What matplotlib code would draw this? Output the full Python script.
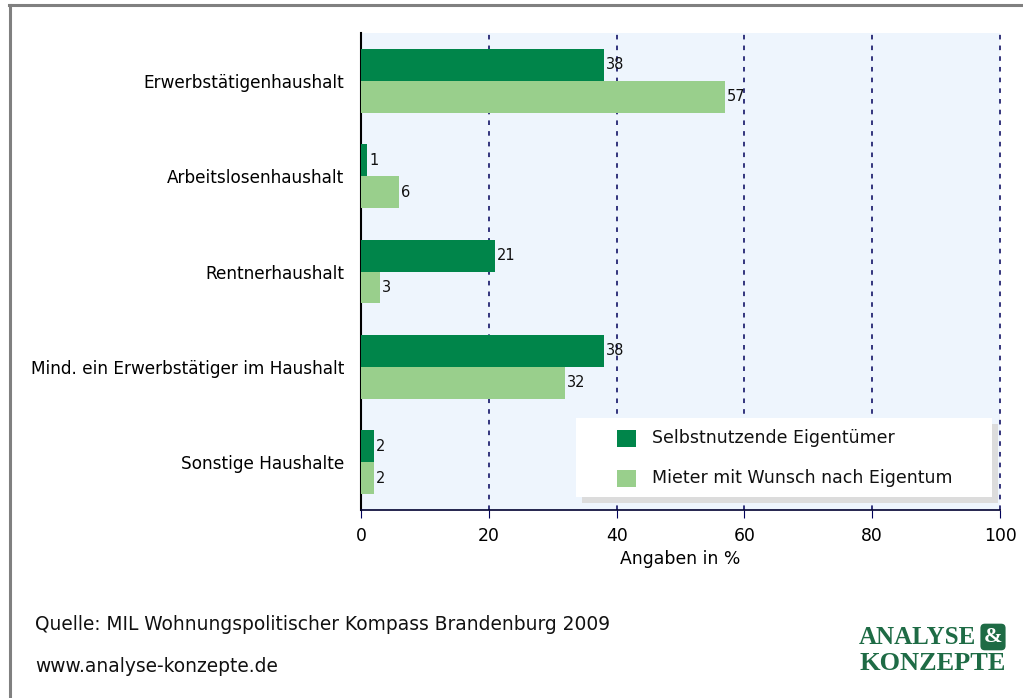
import matplotlib
matplotlib.use("Agg")
import matplotlib.pyplot as plt
import numpy as np
from matplotlib.patches import Rectangle
from matplotlib.lines import Line2D

categories = ["Erwerbstätigenhaushalt", "Arbeitslosenhaushalt", "Rentnerhaushalt",
              "Mind. ein Erwerbstätiger im Haushalt", "Sonstige Haushalte"]
selbst = [38, 1, 21, 38, 2]
mieter = [57, 6, 3, 32, 2]
series_names = ["Selbstnutzende Eigentümer", "Mieter mit Wunsch nach Eigentum"]
xticks = [0, 20, 40, 60, 80, 100]

DARK = "#00854A"
LIGHT = "#99CF8C"
BG = "#EEF5FD"
NAVY = "#00005A"
FONT = "DejaVu Sans"
plt.rcParams['font.family'] = [FONT]

W, H = 1023, 698
fig = plt.figure(figsize=(W/100, H/100), dpi=100)

def fx(px): return px / W
def fy(py): return 1 - py / H

ax = fig.add_axes([fx(361), fy(510), fx(1000) - fx(361), fy(33) - fy(510)])
ax.set_facecolor(BG)
y = np.arange(len(categories))
h = 0.335
ax.barh(y - h/2, selbst, height=h, color=DARK, zorder=3)
ax.barh(y + h/2, mieter, height=h, color=LIGHT, zorder=3)
for i in range(len(categories)):
    ax.text(selbst[i] + 0.3, y[i] - h/2, str(selbst[i]), va="center", ha="left", fontsize=10.5, color="#111111", zorder=4)
    ax.text(mieter[i] + 0.3, y[i] + h/2, str(mieter[i]), va="center", ha="left", fontsize=10.5, color="#111111", zorder=4)
ax.set_ylim(len(categories) - 0.5, -0.5)
ax.set_xlim(0, 100)
ax.set_yticks(y)
ax.set_yticklabels(categories, fontsize=12.2)
ax.set_xticks(xticks)
ax.set_xticklabels([str(v) for v in xticks], fontsize=12.4)
ax.tick_params(axis="y", length=0, pad=12)
ax.tick_params(axis="x", length=6, color=NAVY, pad=6)
for v in xticks[1:]:
    ax.axvline(v, color=NAVY, linestyle=(0, (3, 4)), linewidth=1.1, zorder=2, clip_on=False)
for s in ["top", "right"]:
    ax.spines[s].set_visible(False)
ax.spines["left"].set_color("#000000")
ax.spines["left"].set_linewidth(1.5)
ax.spines["bottom"].set_color("#000030")
ax.spines["bottom"].set_linewidth(1.2)
ax.set_xlabel("Angaben in %", fontsize=12.4, labelpad=4)

# legend with shadow
lx0, ly0, lx1, ly1 = 576, 418, 992, 497
fig.patches.append(Rectangle((fx(lx0 + 6), fy(ly1 + 6)), fx(lx1) - fx(lx0), fy(ly0) - fy(ly1),
                             transform=fig.transFigure, facecolor="#DCDCDC", edgecolor="none", zorder=5))
fig.patches.append(Rectangle((fx(lx0), fy(ly1)), fx(lx1) - fx(lx0), fy(ly0) - fy(ly1),
                             transform=fig.transFigure, facecolor="white", edgecolor="none", zorder=6))
for k, (name, col) in enumerate(zip(series_names, [DARK, LIGHT])):
    cy = 438 + k * 40
    fig.patches.append(Rectangle((fx(617), fy(cy + 9)), fx(19), fy(0) - fy(17),
                                 transform=fig.transFigure, facecolor=col, edgecolor="none", zorder=7))
    fig.text(fx(652), fy(cy), name, fontsize=12.5, va="center", ha="left", color="#111111", zorder=8)

# frame
fig.add_artist(Line2D([fx(10), fx(10)], [fy(698), fy(5)], color="#808080", linewidth=2.2, transform=fig.transFigure))
fig.add_artist(Line2D([fx(9), fx(1023)], [fy(5), fy(5)], color="#808080", linewidth=2.2, transform=fig.transFigure))

fig.text(fx(35), fy(625), "Quelle: MIL Wohnungspolitischer Kompass Brandenburg 2009", fontsize=13.4, va="center", ha="left", color="#111111")
fig.text(fx(35), fy(667), "www.analyse-konzepte.de", fontsize=13.4, va="center", ha="left", color="#111111")

LOGO = "#1E6B45"
fig.text(fx(859), fy(637), "ANALYSE", fontsize=18, fontweight="bold", family="Liberation Serif", color=LOGO, va="center", ha="left")
fig.text(fx(993), fy(637), "&", fontsize=16, fontweight="bold", family="Liberation Serif", color="white", va="center", ha="center",
         bbox=dict(boxstyle="round,pad=0.15,rounding_size=0.2", facecolor=LOGO, edgecolor="none"))
fig.text(fx(859), fy(664), "KONZEPTE", fontsize=19, fontweight="bold", family="Liberation Serif", color=LOGO, va="center", ha="left")

fig.savefig("out.png", dpi=100, facecolor="white")
